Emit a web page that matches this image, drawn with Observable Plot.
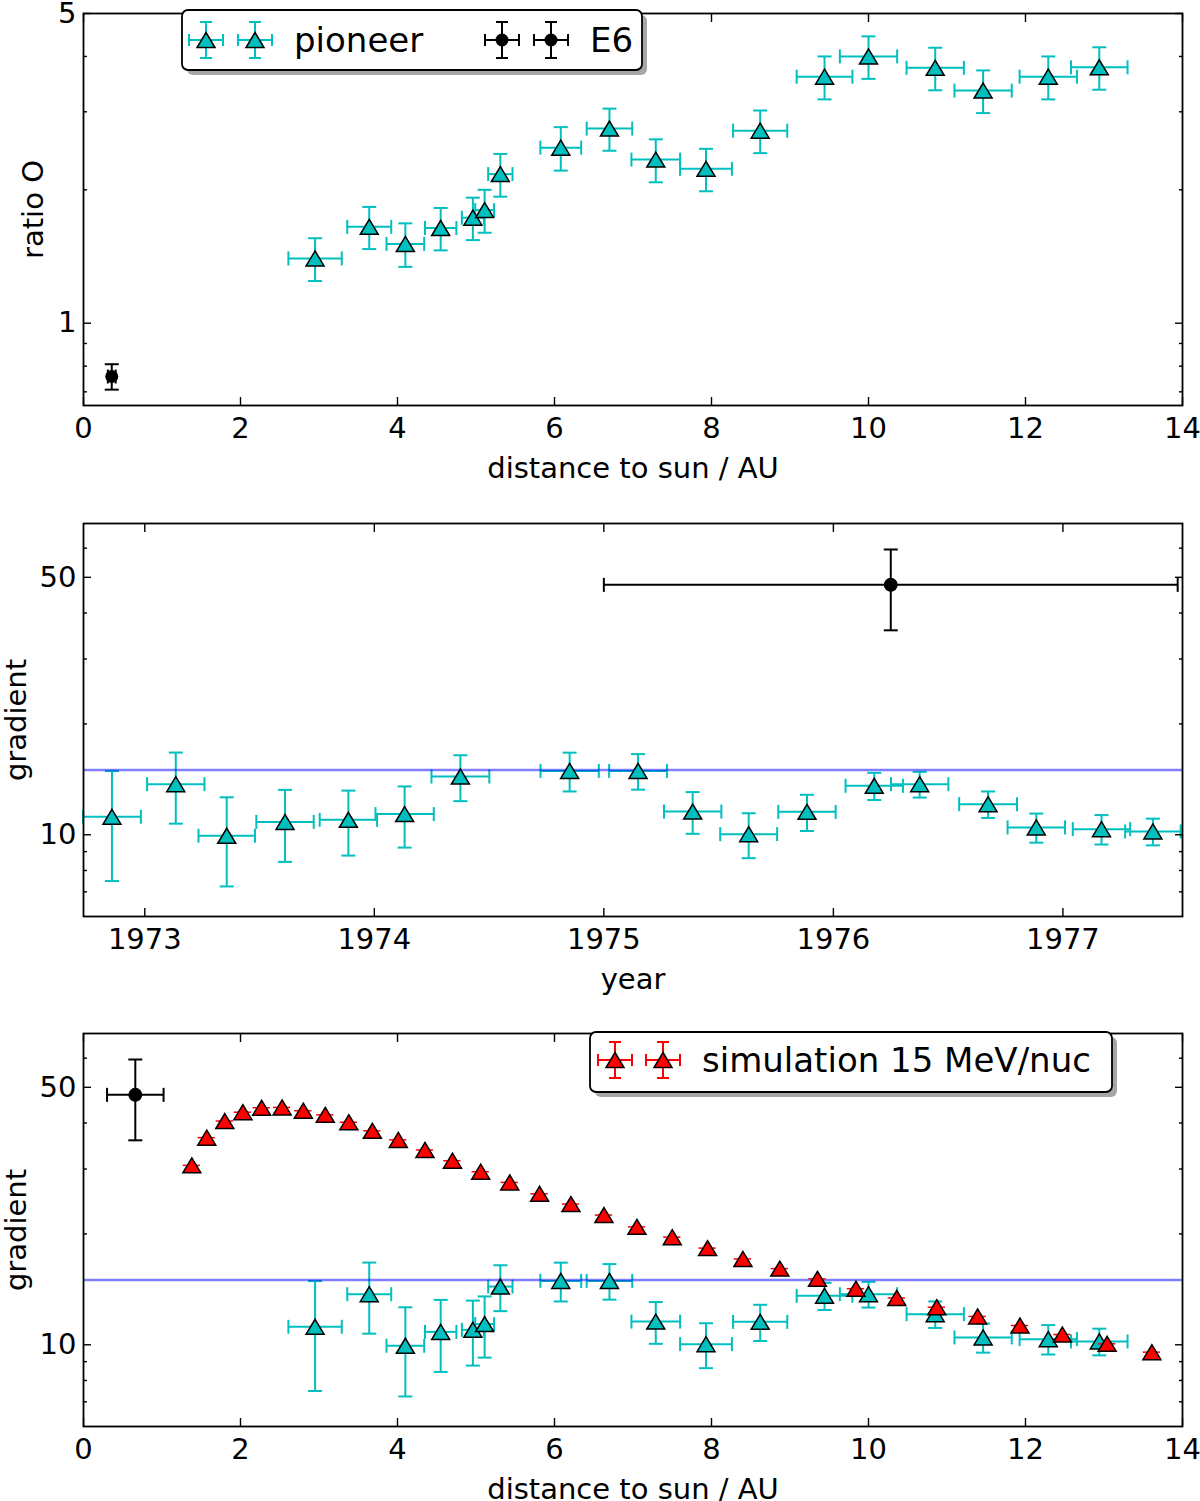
<!DOCTYPE html>
<html>
<head>
<meta charset="utf-8">
<script src="https://cdn.jsdelivr.net/npm/d3@7"></script>
<script src="https://cdn.jsdelivr.net/npm/@observablehq/plot@0.6"></script>
<style>
  body { margin: 0; background: white; }
  #charts svg { display: block; }
</style>
</head>
<body>
<div id="charts"></div>
<script>
// pioneer measurements (same 18 bins in every panel)
const pioneer_dist = [2.95, 3.64, 4.10, 4.55, 4.96, 5.11, 5.31, 6.08, 6.70, 7.29, 7.93, 8.62, 9.44, 10.00, 10.85, 11.46, 12.29, 12.94];
const pioneer_dist_err = [0.34, 0.28, 0.24, 0.20, 0.14, 0.12, 0.155, 0.26, 0.29, 0.31, 0.33, 0.345, 0.355, 0.365, 0.365, 0.365, 0.365, 0.36];
const pioneer_ratio = [1.40, 1.65, 1.51, 1.64, 1.73, 1.80, 2.17, 2.49, 2.75, 2.34, 2.23, 2.72, 3.60, 4.00, 3.77, 3.35, 3.60, 3.78];
const pioneer_ratio_err = [0.155, 0.18, 0.17, 0.18, 0.19, 0.20, 0.24, 0.28, 0.30, 0.26, 0.245, 0.30, 0.40, 0.44, 0.415, 0.37, 0.40, 0.415];
const pioneer_year = [1972.857, 1973.135, 1973.357, 1973.611, 1973.887, 1974.132, 1974.375, 1974.851, 1975.149, 1975.387, 1975.631, 1975.885, 1976.178, 1976.376, 1976.674, 1976.884, 1977.168, 1977.392];
const pioneer_year_err = [0.126, 0.125, 0.123, 0.125, 0.125, 0.127, 0.126, 0.127, 0.126, 0.125, 0.124, 0.125, 0.125, 0.125, 0.126, 0.125, 0.125, 0.121];
const pioneer_grad = [11.19, 13.72, 9.94, 10.84, 10.98, 11.38, 14.39, 14.91, 14.91, 11.56, 10.04, 11.54, 13.58, 13.72, 12.11, 10.47, 10.36, 10.21];
const pioneer_grad_err = [3.7, 3.0, 2.7, 2.4, 2.2, 2.15, 2.05, 1.8, 1.65, 1.5, 1.4, 1.3, 1.15, 1.1, 1.0, 0.95, 0.95, 0.85];

// E6 point
const e6_dist = [0.36];
const e6_dist_err = [0.05];
const e6_ratio = [0.758];
const e6_ratio_err = [0.05];
const e6_year = [1976.25];
const e6_year_err = [1.25];
const e6_grad_dist = [0.66];
const e6_grad_dist_err = [0.36];
const e6_grad = [47.7];
const e6_grad_err = [11.8];

// simulation 15 MeV/nuc
const sim_dist = [1.38, 1.57, 1.80, 2.03, 2.27, 2.53, 2.80, 3.08, 3.38, 3.68, 4.01, 4.35, 4.70, 5.06, 5.43, 5.81, 6.21, 6.63, 7.05, 7.50, 7.95, 8.40, 8.87, 9.35, 9.84, 10.36, 10.87, 11.39, 11.93, 12.47, 13.04, 13.61];
const sim_grad = [30.7, 36.5, 40.5, 42.8, 44.0, 44.1, 43.2, 42.1, 40.2, 38.1, 36.0, 33.8, 31.6, 29.5, 27.6, 25.7, 24.1, 22.5, 20.9, 19.6, 18.3, 17.1, 16.1, 15.1, 14.2, 13.4, 12.65, 11.94, 11.28, 10.66, 10.06, 9.55];
const sim_dist_err = 0.11;

const gradient_ref = [15];

// ticks
const dist_ticks = [0, 2, 4, 6, 8, 10, 12, 14];
const year_ticks = [1973, 1974, 1975, 1976, 1977];
const ratio_major = [1, 5];
const ratio_minor = [0.7, 0.8, 0.9, 2, 3, 4];
const grad_major = [10, 50];
const grad_minor = [7, 8, 9, 20, 30, 40, 60];

const font = "DejaVu Sans";
const cyan = "#00bfbf";

const pioneer = pioneer_dist.map((d, i) => ({
  dist: d,
  distErr: pioneer_dist_err[i],
  ratio: pioneer_ratio[i],
  ratioErr: pioneer_ratio_err[i],
  year: pioneer_year[i],
  yearErr: pioneer_year_err[i],
  grad: pioneer_grad[i],
  gradErr: pioneer_grad_err[i],
}));
const e6 = e6_dist.map((d, i) => ({
  dist: d, distErr: e6_dist_err[i], ratio: e6_ratio[i], ratioErr: e6_ratio_err[i],
  year: e6_year[i], yearErr: e6_year_err[i],
  gdist: e6_grad_dist[i], gdistErr: e6_grad_dist_err[i], grad: e6_grad[i], gradErr: e6_grad_err[i],
}));
const sim = sim_dist.map((d, i) => ({dist: d, distErr: sim_dist_err, grad: sim_grad[i]}));

// matplotlib-ish marker shapes
const triangle = {
  draw(ctx) { ctx.moveTo(0, -7.5); ctx.lineTo(9, 7.5); ctx.lineTo(-9, 7.5); ctx.closePath(); },
};
function lineSymbol(w, h) {
  return { draw(ctx) { ctx.moveTo(-w, -h); ctx.lineTo(w, h); } };
}

function errorbars(rows, {x, y, xErr, yErr, color, strokeWidth = 2, cap = 7}) {
  const marks = [];
  if (xErr) {
    marks.push(Plot.ruleY(rows, {y, x1: (d) => d[x] - d[xErr], x2: (d) => d[x] + d[xErr], stroke: color, strokeWidth}));
    if (cap) {
      const s = lineSymbol(0, cap);
      marks.push(
        Plot.dot(rows, {x: (d) => d[x] - d[xErr], y, symbol: s, fill: "none", stroke: color, strokeWidth}),
        Plot.dot(rows, {x: (d) => d[x] + d[xErr], y, symbol: s, fill: "none", stroke: color, strokeWidth}),
      );
    }
  }
  if (yErr) {
    marks.push(Plot.ruleX(rows, {x, y1: (d) => d[y] - d[yErr], y2: (d) => d[y] + d[yErr], stroke: color, strokeWidth}));
    if (cap) {
      const s = lineSymbol(cap, 0);
      marks.push(
        Plot.dot(rows, {x, y: (d) => d[y] - d[yErr], symbol: s, fill: "none", stroke: color, strokeWidth}),
        Plot.dot(rows, {x, y: (d) => d[y] + d[yErr], symbol: s, fill: "none", stroke: color, strokeWidth}),
      );
    }
  }
  return marks;
}

// inward ticks on all four sides, labels outside
function frame_axes({xTicks, yMajor, yMinor, xFormat = (d) => String(d)}) {
  const m = [Plot.frame({stroke: "black", strokeWidth: 1.8})];
  for (const anchor of ["bottom", "top"]) {
    m.push(Plot.axisX(xTicks, {anchor, tickSize: -8, fill: "none", label: null, strokeWidth: 1.4}));
  }
  for (const anchor of ["left", "right"]) {
    m.push(Plot.axisY(yMajor, {anchor, tickSize: -8, fill: "none", label: null, strokeWidth: 1.4}));
    m.push(Plot.axisY(yMinor, {anchor, tickSize: -4, fill: "none", label: null, strokeWidth: 1.4}));
  }
  m.push(Plot.axisX(xTicks, {anchor: "bottom", tickSize: 0, tickPadding: 12, label: null, tickFormat: xFormat, fill: "black"}));
  m.push(Plot.axisY(yMajor, {anchor: "left", tickSize: 0, tickPadding: 7, label: null, tickFormat: (d) => String(d), fill: "black"}));
  return m;
}

function axis_titles(xTitle, yTitle, yDx) {
  return [
    Plot.text([xTitle], {frameAnchor: "bottom", dy: 63, text: (d) => d, fill: "black", textAnchor: "middle", lineAnchor: "middle"}),
    Plot.text([yTitle], {frameAnchor: "left", dx: yDx, rotate: -90, text: (d) => d, fill: "black", textAnchor: "middle", lineAnchor: "middle"}),
  ];
}

function draw_legend(svg, {x, y, width, height, entries}) {
  const g = d3.select(svg).append("g").attr("font-family", font).attr("text-anchor", "start");
  g.append("rect").attr("x", x + 5).attr("y", y + 5).attr("width", width).attr("height", height)
    .attr("rx", 6).attr("fill", "#a6a6a6");
  g.append("rect").attr("x", x).attr("y", y).attr("width", width).attr("height", height)
    .attr("rx", 6).attr("fill", "white").attr("stroke", "black").attr("stroke-width", 1.8);
  for (const e of entries) {
    for (const mx of e.markers) {
      const m = g.append("g").attr("transform", `translate(${mx},${e.y})`);
      m.append("path")
        .attr("d", "M-17,0H17M0,-18V18M-17,-6V6M17,-6V6M-6,-18H6M-6,18H6")
        .attr("stroke", e.color).attr("stroke-width", 2).attr("fill", "none");
      if (e.symbol === "triangle") {
        m.append("path").attr("d", "M0,-7.5L9,7.5L-9,7.5Z")
          .attr("fill", e.fill).attr("stroke", "black").attr("stroke-width", 1.5);
      } else {
        m.append("circle").attr("r", 6.5).attr("fill", "black");
      }
    }
    g.append("text").attr("x", e.textX).attr("y", e.y).attr("dy", "0.36em")
      .attr("font-size", 34).attr("fill", "black").attr("text-anchor", "start").text(e.label);
  }
}

const style = {fontFamily: font, fontSize: "29px", background: "white", color: "black", overflow: "visible"};
const container = document.getElementById("charts");

// panel 1: ratio vs distance
const plot1 = Plot.plot({
  width: 1200, height: 510,
  marginTop: 13, marginBottom: 105, marginLeft: 83, marginRight: 18,
  style,
  x: {domain: [0, 14]},
  y: {type: "log", domain: [0.652, 5]},
  marks: [
    ...errorbars(pioneer, {x: "dist", y: "ratio", xErr: "distErr", yErr: "ratioErr", color: cyan}),
    Plot.dot(pioneer, {x: "dist", y: "ratio", symbol: triangle, fill: cyan, stroke: "black", strokeWidth: 1.5}),
    ...errorbars(e6, {x: "dist", y: "ratio", xErr: "distErr", yErr: "ratioErr", color: "black"}),
    Plot.dot(e6, {x: "dist", y: "ratio", r: 6.5, fill: "black"}),
    ...frame_axes({xTicks: dist_ticks, yMajor: ratio_major, yMinor: ratio_minor}),
    ...axis_titles("distance to sun / AU", "ratio O", -50),
  ],
});
draw_legend(plot1, {
  x: 182, y: 10, width: 460, height: 60,
  entries: [
    {markers: [206, 255], y: 40, color: cyan, symbol: "triangle", fill: cyan, textX: 294, label: "pioneer"},
    {markers: [502, 551], y: 40, color: "black", symbol: "circle", textX: 590, label: "E6"},
  ],
});
container.appendChild(plot1);

// panel 2: gradient vs year
const plot2 = Plot.plot({
  width: 1200, height: 510,
  marginTop: 13, marginBottom: 104, marginLeft: 83, marginRight: 18,
  style,
  x: {domain: [1972.733, 1977.521]},
  y: {type: "log", domain: [6, 70]},
  marks: [
    ...errorbars(pioneer, {x: "year", y: "grad", xErr: "yearErr", yErr: "gradErr", color: cyan}),
    Plot.ruleY(gradient_ref, {stroke: "#0000ff", strokeOpacity: 0.5, strokeWidth: 2.5}),
    Plot.dot(pioneer, {x: "year", y: "grad", symbol: triangle, fill: cyan, stroke: "black", strokeWidth: 1.5}),
    ...errorbars(e6, {x: "year", y: "grad", xErr: "yearErr", yErr: "gradErr", color: "black"}),
    Plot.dot(e6, {x: "year", y: "grad", r: 7, fill: "black"}),
    ...frame_axes({xTicks: year_ticks, yMajor: grad_major, yMinor: grad_minor}),
    ...axis_titles("year", "gradient", -67),
  ],
});
container.appendChild(plot2);

// panel 3: gradient vs distance, with simulation
const plot3 = Plot.plot({
  width: 1200, height: 481,
  marginTop: 13, marginBottom: 75, marginLeft: 83, marginRight: 18,
  style,
  x: {domain: [0, 14]},
  y: {type: "log", domain: [6, 70]},
  marks: [
    ...errorbars(pioneer, {x: "dist", y: "grad", xErr: "distErr", yErr: "gradErr", color: cyan}),
    Plot.ruleY(gradient_ref, {stroke: "#0000ff", strokeOpacity: 0.5, strokeWidth: 2.5}),
    Plot.dot(pioneer, {x: "dist", y: "grad", symbol: triangle, fill: cyan, stroke: "black", strokeWidth: 1.5}),
    ...errorbars(sim, {x: "dist", y: "grad", xErr: "distErr", color: "red", strokeWidth: 1.5, cap: 0}),
    Plot.dot(sim, {x: "dist", y: "grad", symbol: triangle, fill: "red", stroke: "black", strokeWidth: 1.5}),
    ...errorbars(e6, {x: "gdist", y: "grad", xErr: "gdistErr", yErr: "gradErr", color: "black"}),
    Plot.dot(e6, {x: "gdist", y: "grad", r: 7, fill: "black"}),
    ...frame_axes({xTicks: dist_ticks, yMajor: grad_major, yMinor: grad_minor}),
    ...axis_titles("distance to sun / AU", "gradient", -67),
  ],
});
draw_legend(plot3, {
  x: 590, y: 12, width: 522, height: 60,
  entries: [
    {markers: [615, 663], y: 40, color: "red", symbol: "triangle", fill: "red", textX: 702, label: "simulation 15 MeV/nuc"},
  ],
});
container.appendChild(plot3);
</script>
</body>
</html>
